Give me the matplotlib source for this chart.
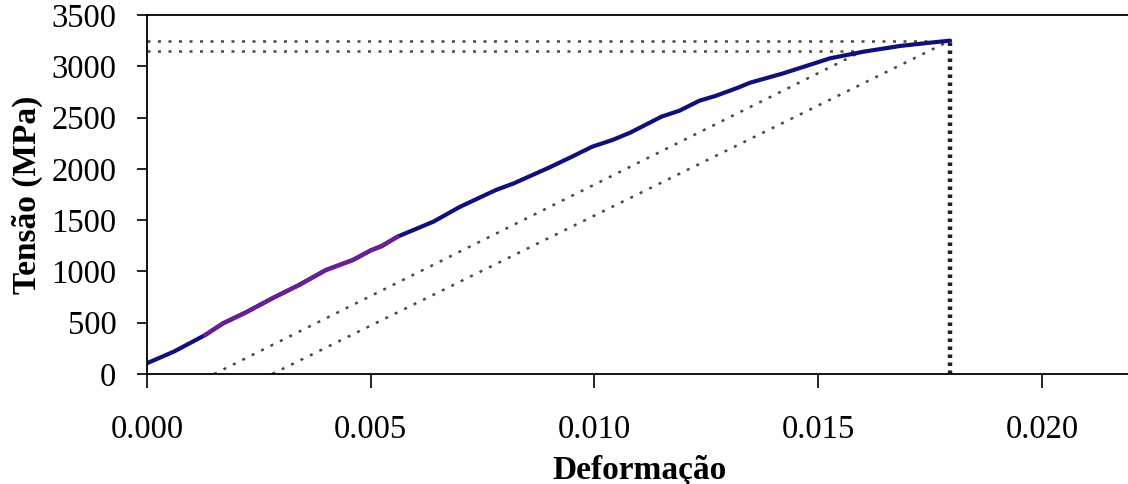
#!/usr/bin/env python3
"""Curva tensão x deformação com construção de offset."""

import numpy as np
from matplotlib import pyplot as plt

# Curva experimental
deformacao = [0.0, 0.0006, 0.0013, 0.0017, 0.0022, 0.0028, 0.0034, 0.0040,
              0.0046, 0.0050, 0.00525, 0.0056, 0.0064, 0.0070, 0.0078,
              0.0082, 0.0090, 0.0095, 0.00995, 0.0104, 0.0108, 0.0115,
              0.0119, 0.01235, 0.0127, 0.0132, 0.01348, 0.01422, 0.01527,
              0.01601, 0.01683, 0.0175, 0.01795]
tensao = [105, 218, 380, 494, 598, 738, 868, 1014, 1111, 1205, 1248, 1339,
          1485, 1631, 1794, 1859, 2015, 2119, 2216, 2281, 2353, 2509, 2567,
          2665, 2710, 2790, 2840, 2931, 3078, 3142, 3198, 3230, 3250]

# Retas de offset e níveis de tensão
offset_sup = ([0.0015, 0.0160], [0, 3150])
offset_inf = ([0.0028, 0.01795], [0, 3250])
niveis = [3250, 3150]
niveis_fim = [0.01795, 0.0160]
def_ruptura = 0.01795

plt.rcParams['font.family'] = 'Liberation Serif'

fig = plt.figure(figsize=(11.28, 4.84), dpi=100)
ax = fig.add_axes([147 / 1128, 110 / 484, 984.3 / 1128, 359 / 484])

dot_style = dict(color='#484848', linewidth=1.8, linestyle=(0, (1.2, 3.0)))
for nivel, fim in zip(niveis, niveis_fim):
    ax.plot([0, fim], [nivel, nivel], **dot_style)
ax.plot(*offset_sup, **dot_style)
ax.plot(*offset_inf, **dot_style)
ax.plot([def_ruptura, def_ruptura], [0, tensao[-1]], color='#202020',
        linewidth=3.2, linestyle=(0, (0.8, 1.0)))

x = np.array(deformacao)
y = np.array(tensao)
ax.plot(x, y, color='#10107a', linewidth=3.0, solid_capstyle='round')
trecho = (x >= 0.0013) & (x <= 0.0056)
ax.plot(x[trecho], y[trecho], color='#6a1f94', linewidth=3.0,
        solid_capstyle='round')

ax.set_xlim(0, 0.022)
ax.set_ylim(0, 3500)
ax.set_xticks([0.0, 0.005, 0.010, 0.015, 0.020])
ax.set_xticklabels(['0.000', '0.005', '0.010', '0.015', '0.020'])
ax.set_yticks(range(0, 3501, 500))
ax.spines['right'].set_visible(False)
for side in ['left', 'bottom', 'top']:
    ax.spines[side].set_linewidth(1.3)
ax.tick_params(axis='y', direction='out', length=7, width=1.2,
               labelsize=23.5, pad=15)
ax.tick_params(axis='x', direction='out', length=10, width=1.2,
               labelsize=23.5, pad=19)

ax.set_xlabel('Deformação', fontsize=24, fontweight='bold', labelpad=7)
ax.set_ylabel('Tensão (MPa)', fontsize=24, fontweight='bold', labelpad=6)

fig.savefig('out.png', dpi=100)
